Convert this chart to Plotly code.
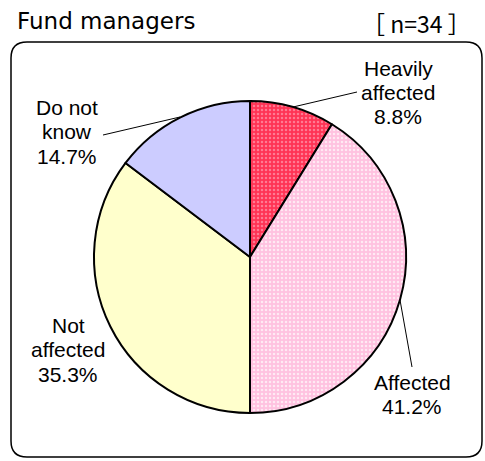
import plotly.graph_objects as go

W, H = 485, 461

# ---- data ----
categories = ["Heavily affected", "Affected", "Not affected", "Do not know"]
values = [8.8, 41.2, 35.3, 14.7]
label_lines = [["Heavily", "affected", "8.8%"],
               ["Affected", "41.2%"],
               ["Not", "affected", "35.3%"],
               ["Do not", "know", "14.7%"]]
title_text = "Fund managers"
n_text = "［ n=34 ］"

# ---- styles ----
base_colors = ["#FF3355", "#FFC2E0", "#FFFFCC", "#CCCCFF"]
dot_colors = ["#FF7A92", "#FFEAF4", "#FFFFCC", "#CCCCFF"]
shapes_pat = [".", ".", "", ""]

def px(x):
    return x / W

def py(y):
    return 1 - y / H

cx, cy, r = 250, 257, 156

fig = go.Figure(go.Pie(
    labels=categories, values=values, sort=False, direction="clockwise",
    rotation=0, textinfo="none", hoverinfo="label+percent",
    marker=dict(colors=base_colors, line=dict(color="black", width=2),
                pattern=dict(shape=shapes_pat, bgcolor=base_colors,
                             fgcolor=dot_colors, size=4, solidity=0.3,
                             fillmode="replace")),
    domain=dict(x=[px(cx - r), px(cx + r)], y=[py(cy + r), py(cy - r)]),
    showlegend=False,
))

font = dict(family="Liberation Sans, Arial", size=21, color="black")
annotations = []
label_pos = [(398, 68), (412, 382), (68, 325), (67, 107)]
spacing = 24.5
for lines, (lx, ly) in zip(label_lines, label_pos):
    for i, t in enumerate(lines):
        annotations.append(dict(x=px(lx), y=py(ly + i * spacing), xref="paper", yref="paper",
                                text=t, showarrow=False, font=font,
                                xanchor="center", yanchor="middle"))
annotations.append(dict(x=px(15), y=py(21), xref="paper", yref="paper", text=title_text,
                        showarrow=False, font=dict(family="DejaVu Sans", size=23, color="black"),
                        xanchor="left", yanchor="middle"))
annotations.append(dict(x=px(416), y=py(23), xref="paper", yref="paper", text=n_text,
                        showarrow=False, font=dict(family="Noto Sans CJK JP", size=23, color="black"),
                        xanchor="center", yanchor="middle"))

# rounded frame
x0, y0, x1, y1, rr = 11, 42, 482, 457, 16
path = (f"M {px(x0+rr)},{py(y0)} L {px(x1-rr)},{py(y0)} "
        f"Q {px(x1)},{py(y0)} {px(x1)},{py(y0+rr)} L {px(x1)},{py(y1-rr)} "
        f"Q {px(x1)},{py(y1)} {px(x1-rr)},{py(y1)} L {px(x0+rr)},{py(y1)} "
        f"Q {px(x0)},{py(y1)} {px(x0)},{py(y1-rr)} L {px(x0)},{py(y0+rr)} "
        f"Q {px(x0)},{py(y0)} {px(x0+rr)},{py(y0)} Z")
shapes = [dict(type="path", path=path, xref="paper", yref="paper",
               line=dict(color="black", width=1.5))]
leaders = [((293, 107), (357, 92)), ((400, 300), (412, 367)), ((180, 117), (103, 135))]
for (ax, ay), (bx, by) in leaders:
    shapes.append(dict(type="line", x0=px(ax), y0=py(ay), x1=px(bx), y1=py(by),
                       xref="paper", yref="paper", line=dict(color="black", width=1)))

fig.update_layout(width=W, height=H, margin=dict(l=0, r=0, t=0, b=0),
                  paper_bgcolor="white", plot_bgcolor="white",
                  annotations=annotations, shapes=shapes)
fig.write_html("out.html", config={"displayModeBar": False},
               post_script="document.body.style.margin='0';document.body.style.overflow='hidden';")
